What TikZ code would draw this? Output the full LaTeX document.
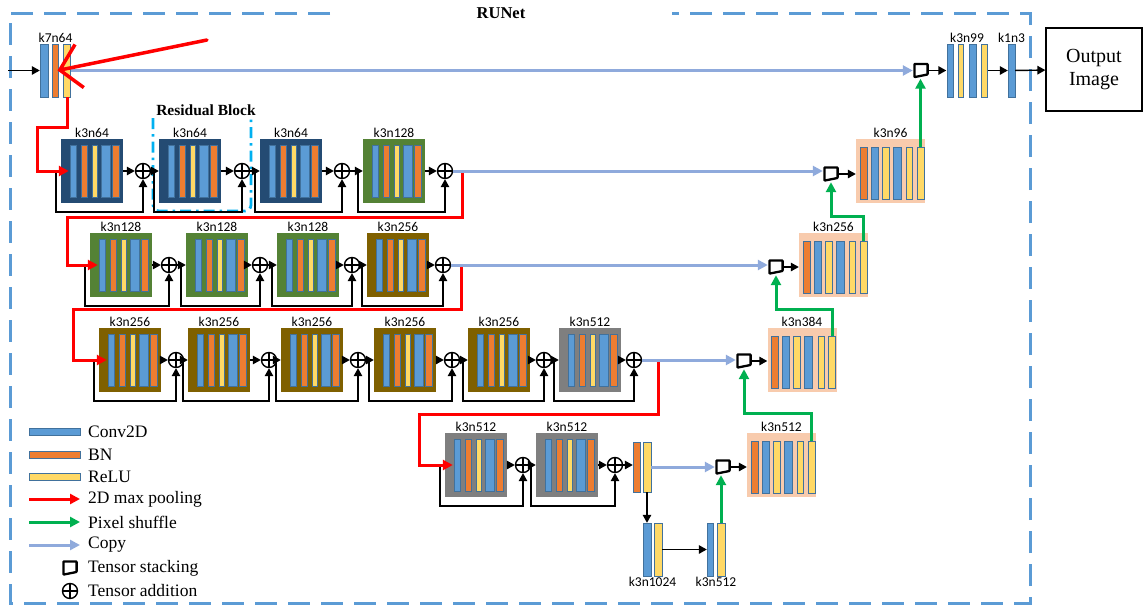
\documentclass[tikz,border=0pt]{standalone}
\usepackage{fontspec}
\setmainfont{Liberation Serif}
\newfontfamily\calibri{Carlito}
\usetikzlibrary{arrows.meta}

\definecolor{convblue}{RGB}{91,155,213}
\definecolor{bnorange}{RGB}{237,125,49}
\definecolor{reluyellow}{RGB}{255,217,102}
\definecolor{barline}{RGB}{65,113,156}
\definecolor{encnavy}{RGB}{36,75,115}
\definecolor{leaf}{RGB}{84,130,53}
\definecolor{umber}{RGB}{127,96,0}
\definecolor{slate}{RGB}{127,127,127}
\definecolor{peach}{RGB}{248,203,173}
\definecolor{copyblue}{RGB}{143,170,220}
\definecolor{shufgreen}{RGB}{0,176,80}
\definecolor{framblue}{RGB}{91,155,213}
\definecolor{rescyan}{RGB}{0,176,240}

\tikzset{
  outerframe/.style={draw=framblue, line width=3pt, dash pattern=on 22pt off 11pt},
  resid/.style={draw=rescyan, line width=2.8pt, dash pattern=on 11pt off 5pt on 2.5pt off 5pt, rounded corners=6pt},
  blk/.style={rectangle, minimum width=62pt, minimum height=64pt, inner sep=0pt},
  decbox/.style={rectangle, fill=peach, minimum width=69pt, minimum height=64pt, inner sep=0pt},
  grp/.style={rectangle, minimum height=53pt, inner sep=0pt},
  bar/.style={draw=barline, line width=1pt},
  lbl/.style={font=\calibri\fontsize{13.5}{15}\selectfont, inner sep=1pt},
  legtext/.style={anchor=west, inner sep=0pt, font=\fontsize{17.5}{19}\selectfont},
  addnode/.style={circle, draw, fill=white, line width=1.4pt, minimum size=15pt, inner sep=0pt,
    path picture={\draw[line width=1.4pt] (path picture bounding box.north) -- (path picture bounding box.south)
      (path picture bounding box.west) -- (path picture bounding box.east);}},
  stacknode/.style={rectangle, fill=white, minimum size=16pt, inner sep=0pt,
    path picture={\draw[line width=2.3pt, line join=round, rounded corners=0.6pt]
      ([shift={(1.4pt,-1.4pt)}]path picture bounding box.north west) -- ([shift={(-1.4pt,-1.4pt)}]path picture bounding box.north east)
      -- ([shift={(-1.4pt,4pt)}]path picture bounding box.south east) -- ([shift={(1.4pt,1.4pt)}]path picture bounding box.south west) -- cycle;}},
  flow/.style={-{Triangle[length=8pt,width=8.5pt]}, line width=1.4pt},
  pool/.style={-{Triangle[length=10pt,width=10pt]}, line width=3pt, red},
  shuffle/.style={-{Triangle[length=10pt,width=10pt]}, line width=3pt, shufgreen},
  copyline/.style={-{Triangle[length=10pt,width=10pt]}, line width=3pt, copyblue},
}

% bars of a layer group: node, bar height, vertical offset, list of dx/width/colour
\newcommand{\barset}[4]{%
  \foreach \dx/\w/\col in {#4}
    {\draw[bar, fill=\col] ([shift={({\dx-\w/2},{#3-#2/2})}]#1.center) rectangle +(\w,#2);}}

% encoder block: name, x, y, colour, label
\newcommand{\encblock}[5]{%
  \node[blk, fill=#4, label={[lbl]above:#5}] (#1) at (#2,#3) {};
  \barset{#1}{52}{0}{-19/6/convblue, -8/6/bnorange, 3/5/reluyellow, 14/9/convblue, 24/7/bnorange}}

% decoder block: name, x, y, label
\newcommand{\decblock}[4]{%
  \node[decbox, label={[lbl]above:#4}] (#1) at (#2,#3) {};
  \barset{#1}{52}{2}{-27/7/bnorange, -16/7/convblue, -5/7/reluyellow, 6.5/8/convblue, 19/6/reluyellow, 30/7/reluyellow}
  \coordinate (#1-out) at ([shift={(30,-24)}]#1.center);}

\begin{document}
\begin{tikzpicture}[x=1pt, y=-1pt]
\useasboundingbox (0,0) rectangle (1144,608);

% dashed frame with the title
\draw[outerframe] (330,13) -- (10,13) -- (10,603) -- (1030,603) -- (1030,13) -- (672,13);
\node[font=\bfseries\fontsize{16.5}{18}\selectfont] (title) at (501,13) {RUNet};

% input layer and output head
\node[grp, minimum width=31pt, label={[lbl]above:k7n64}] (k7) at (55.5,70.5) {};
\barset{k7}{53}{0}{-11.5/8/convblue, -0.2/6/bnorange, 11.5/7.5/reluyellow}
\node[stacknode] (s1) at (921,70.5) {};
\node[grp, minimum width=41pt, label={[lbl]above:k3n99}] (k99) at (967,70.5) {};
\barset{k99}{53}{0}{-17/6/convblue, -6.5/5/reluyellow, 5.5/7/convblue, 17/6/reluyellow}
\node[grp, minimum width=7pt, label={[lbl]above:k1n3}] (k1n3) at (1011.5,70.5) {};
\barset{k1n3}{53}{0}{0/7/convblue}
\node[draw, line width=1.2pt, minimum width=96pt, minimum height=83pt, align=center,
  font=\fontsize{20}{23}\selectfont] (out) at (1094,69.5) {Output\\Image};

% residual block marker
\node[font=\bfseries\fontsize{15.5}{17}\selectfont, inner sep=0pt] (restitle) at (206,110) {Residual Block};
\draw[resid] (153,118) -- (153,211) -- (251,211) -- (251,118);

% encoder rows
\encblock{b1}{92}{171}{encnavy}{k3n64}
\encblock{b2}{190}{171}{encnavy}{k3n64}
\encblock{b3}{291}{171}{encnavy}{k3n64}
\encblock{b4}{394}{171}{leaf}{k3n128}
\encblock{c1}{121}{265}{leaf}{k3n128}
\encblock{c2}{217}{265}{leaf}{k3n128}
\encblock{c3}{308}{265}{leaf}{k3n128}
\encblock{c4}{398}{265}{umber}{k3n256}
\encblock{d1}{130}{360}{umber}{k3n256}
\encblock{d2}{219}{360}{umber}{k3n256}
\encblock{d3}{312}{360}{umber}{k3n256}
\encblock{d4}{405}{360}{umber}{k3n256}
\encblock{d5}{499}{360}{umber}{k3n256}
\encblock{d6}{590}{360}{slate}{k3n512}
\encblock{e1}{476}{465}{slate}{k3n512}
\encblock{e2}{567}{465}{slate}{k3n512}

% adders
\foreach \a/\x/\y in {a1/143/171, a2/242/171, a3/342/171, a4/445/171,
    a5/169/265, a6/260/265, a7/352/265, a8/443/265,
    a9/176/360, a10/269/360, a11/358/360, a12/452/360, a13/544/360, a14/634/360,
    a15/523/465, a16/615/465}
  \node[addnode] (\a) at (\x,\y) {};

% bottleneck
\node[grp, minimum width=18pt, minimum height=50pt] (bn) at (642,467) {};
\barset{bn}{50}{0}{-5.5/7/bnorange, 5/8/reluyellow}
\node[grp, minimum width=19pt, label={[lbl]below:k3n1024}] (b1024) at (652.5,549.5) {};
\barset{b1024}{53}{0}{-5.5/8/convblue, 5.5/8/reluyellow}
\node[grp, minimum width=18pt, label={[lbl]below:k3n512}] (b512) at (716,549.5) {};
\barset{b512}{53}{0}{-6/6/convblue, 5/8/reluyellow}

% decoder
\node[stacknode] (s2) at (831,174) {};
\node[stacknode] (s3) at (776,267) {};
\node[stacknode] (s4) at (744,361) {};
\node[stacknode] (s5) at (723,467) {};
\decblock{dec1}{890.5}{171}{k3n96}
\decblock{dec2}{833.5}{265}{k3n256}
\decblock{dec3}{802}{360}{k3n384}
\decblock{dec4}{781.5}{465}{k3n512}

% black connections and skips
\draw[flow] (8,70.5) -- (k7);
\foreach \b/\a in {b1/a1, b2/a2, b3/a3, b4/a4, c1/a5, c2/a6, c3/a7, c4/a8,
    d1/a9, d2/a10, d3/a11, d4/a12, d5/a13, d6/a14, e1/a15, e2/a16}
  {\draw[flow] (\b) -- (\a);
   \draw[flow] ([xshift=-5pt]\b.west) -- ++(0,41) -| (\a.south);}
\foreach \a/\b in {a1/b2, a2/b3, a3/b4, a5/c2, a6/c3, a7/c4,
    a9/d2, a10/d3, a11/d4, a12/d5, a13/d6, a15/e2}
  \draw[flow] (\a) -- (\b);
\draw[flow] (a16) -- (a16 -| bn.west);
\draw[flow] ([xshift=5pt]bn.south) -- ([xshift=5pt]bn.south |- b1024.north);
\draw[flow] (b1024) -- (b512);
\draw[flow] (s1) -- (k99);
\draw[flow] (k99) -- (k1n3);
\draw[flow] (k1n3) -- (out);
\draw[flow] (s2) -- (s2 -| dec1.west);
\draw[flow] (s3) -- (s3 -| dec2.west);
\draw[flow] (s4) -- (s4 -| dec3.west);
\draw[flow] (s5) -- (s5 -| dec4.west);

% max pooling
\draw[pool] ([xshift=12pt]k7.south) |- (37,127) |- ([xshift=8pt]b1.west);
\draw[pool] ([xshift=17pt]a4.center) |- (67,217) |- ([xshift=8pt]c1.west);
\draw[pool] ([xshift=18pt]a8.center) |- (73,309) |- ([xshift=8pt]d1.west);
\draw[pool] ([xshift=24pt]a14.center) |- (419,414) |- ([xshift=8pt]e1.west);

% copies
\draw[copyline] (k7) -- (s1);
\draw[copyline] (a4) -- (s2.west |- a4);
\draw[copyline] (a8) -- (s3.west |- a8);
\draw[copyline] (a14) -- (s4.west |- a14);
\draw[copyline] (bn) -- (s5.west |- bn);

% pixel shuffle
\draw[shuffle] (dec1-out) -- (dec1-out |- s1.south);
\draw[shuffle] (dec2-out) -- ++(0,-25) -| (s2.south);
\draw[shuffle] (dec3-out) -- ++(0,-27) -| (s3.south);
\draw[shuffle] (dec4-out) -- ++(0,-28) -| (s4.south);
\draw[shuffle] ([xshift=5pt]b512.north) -- ([xshift=5pt]b512.north |- s5.south);

% legend
\node[legtext] (lgconv) at (88,432) {Conv2D};
\node[legtext] (lgbn) at (88,455) {BN};
\node[legtext] (lgrelu) at (88,477) {ReLU};
\node[legtext] (lgpool) at (88,499) {2D max pooling};
\node[legtext] (lgshuf) at (88,522) {Pixel shuffle};
\node[legtext] (lgcopy) at (88,545) {Copy};
\node[legtext] (lgstack) at (88,568) {Tensor stacking};
\node[legtext] (lgadd) at (88,591) {Tensor addition};
\draw[bar, fill=convblue] ([shift={(-59,-3.5)}]lgconv.west) rectangle +(51,7);
\draw[bar, fill=bnorange] ([shift={(-59,-3.5)}]lgbn.west) rectangle +(51,7);
\draw[bar, fill=reluyellow] ([shift={(-59,-3.5)}]lgrelu.west) rectangle +(51,7);
\draw[pool] ([xshift=-59pt]lgpool.west) -- ([xshift=-8pt]lgpool.west);
\draw[shuffle] ([xshift=-59pt]lgshuf.west) -- ([xshift=-8pt]lgshuf.west);
\draw[copyline] ([xshift=-59pt]lgcopy.west) -- ([xshift=-8pt]lgcopy.west);
\node[stacknode] (lgs) at (70,568) {};
\node[addnode] (lga) at (70,591) {};

% red hint arrow
\coordinate (hint) at (207,40);
\draw[red, line width=3.5pt, line cap=round, -{Straight Barb[length=20pt,width=44pt]}] (hint) -- ([xshift=2pt]k7.center);
\end{tikzpicture}
\end{document}
